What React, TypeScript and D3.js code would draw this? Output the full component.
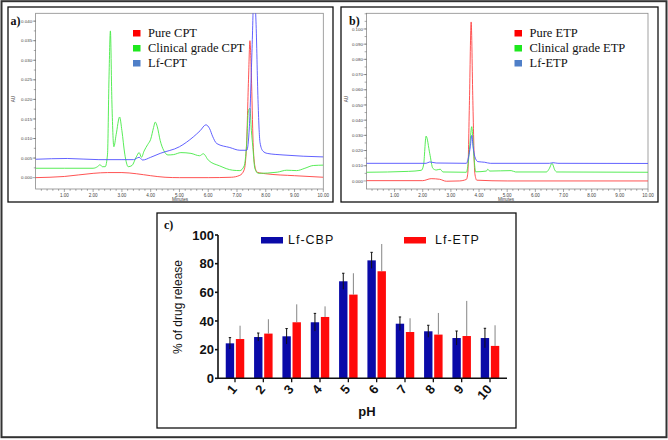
import React from "react";
import * as d3 from "d3";

// ---------- Panel a: chromatogram (CPT) ----------
const minutesTicks = [1, 2, 3, 4, 5, 6, 7, 8, 9, 10];
const auTicksA = [0, 0.005, 0.01, 0.015, 0.02, 0.025, 0.03, 0.035, 0.04];
const auTicksB = [0, 0.01, 0.02, 0.03, 0.04, 0.05, 0.06, 0.07, 0.08, 0.09, 0.1];

const pureCPT: [number, number][] = [
  [0, 0], [1, 0.0003], [2, 0.0011], [2.5, 0.0013], [3, 0.0013], [3.5, 0.001], [4, 0.0005],
  [4.5, 0.0001], [5, 0], [6, 0], [6.8, 0.0001], [7.1, 0.0006], [7.25, 0.002], [7.33, 0.008],
  [7.4, 0.025], [7.45, 0.035], [7.5, 0.026], [7.56, 0.009], [7.62, 0.003], [7.7, 0.0014],
  [8, 0.001], [9, 0.0005], [10, 0.0001],
];
const clinicalCPT: [number, number][] = [
  [0, 0.0024], [1, 0.0024], [2, 0.0024], [2.15, 0.0028], [2.24, 0.0033], [2.32, 0.0028],
  [2.42, 0.0028], [2.5, 0.006], [2.55, 0.025], [2.6, 0.0375], [2.65, 0.02], [2.72, 0.0079],
  [2.8, 0.011], [2.92, 0.0155], [3.0, 0.012], [3.1, 0.006], [3.22, 0.0028], [3.35, 0.0031],
  [3.5, 0.0053], [3.6, 0.0064], [3.68, 0.0052], [3.77, 0.0068], [3.9, 0.0085], [4.0, 0.0098],
  [4.1, 0.0128], [4.16, 0.0142], [4.23, 0.013], [4.33, 0.0095], [4.45, 0.007], [4.6, 0.0058],
  [4.8, 0.0059], [5.05, 0.0064], [5.4, 0.0062], [5.7, 0.0056], [5.83, 0.0061], [6.0, 0.0045],
  [6.4, 0.003], [6.85, 0.0019], [7.1, 0.0018], [7.25, 0.003], [7.33, 0.008], [7.4, 0.0172],
  [7.45, 0.0177], [7.5, 0.012], [7.55, 0.0079], [7.62, 0.0024], [7.74, 0.0011], [8.4, 0.0014],
  [8.73, 0.0019], [9.07, 0.0018], [9.36, 0.0024], [9.65, 0.0031], [10, 0.0032],
];
const lfCPT: [number, number][] = [
  [0, 0.0047], [1.1, 0.0049], [2.2, 0.0046], [3.0, 0.0046], [3.4, 0.0046], [3.6, 0.0052],
  [3.72, 0.0045], [4.0, 0.0052], [4.33, 0.0062], [5.0, 0.0079], [5.48, 0.0104], [5.72, 0.012],
  [5.92, 0.0135], [6.05, 0.0125], [6.15, 0.0106], [6.3, 0.0087], [6.75, 0.0077], [7.1, 0.007],
  [7.34, 0.007], [7.43, 0.013], [7.52, 0.032], [7.59, 0.047], [7.66, 0.04], [7.73, 0.02],
  [7.8, 0.009], [7.9, 0.0068], [8.05, 0.0062], [8.6, 0.0058], [10, 0.0053],
];

// ---------- Panel b: chromatogram (ETP) ----------
const pureETP: [number, number][] = [
  [0, 0.0002], [2, 0.0002], [2.3, 0.0015], [2.6, 0.0011], [2.84, -0.0002], [3.3, 0],
  [3.55, 0.001], [3.6, 0.005], [3.66, 0.053], [3.72, 0.1046], [3.78, 0.053], [3.85, 0.005],
  [3.92, 0.0005], [5, 0], [10, 0],
];
const clinicalETP: [number, number][] = [
  [0, 0.0057], [1.5, 0.0063], [1.95, 0.007], [2.03, 0.0105], [2.12, 0.0295], [2.25, 0.018],
  [2.36, 0.0083], [2.48, 0.0072], [2.62, 0.0077], [2.72, 0.0059], [3.55, 0.0057], [3.6, 0.0095],
  [3.68, 0.025], [3.74, 0.0357], [3.81, 0.018], [3.88, 0.006], [4.26, 0.0065], [4.31, 0.0077],
  [4.38, 0.0065], [5.14, 0.0068], [5.3, 0.0059], [6.39, 0.0059], [6.5, 0.0083], [6.59, 0.0116],
  [6.69, 0.0072], [6.76, 0.0059], [10, 0.0057],
];
const lfETP: [number, number][] = [
  [0, 0.0116], [2.12, 0.0116], [2.25, 0.0125], [2.48, 0.0118], [3.55, 0.0116], [3.63, 0.016],
  [3.69, 0.0225], [3.74, 0.03], [3.79, 0.0225], [3.85, 0.016], [3.96, 0.0127], [4.2, 0.0123],
  [4.4, 0.0116], [6.5, 0.0116], [6.63, 0.012], [6.8, 0.0116], [10, 0.0115],
];

const legendA = ["Pure CPT", "Clinical grade CPT", "Lf-CPT"];
const legendB = ["Pure ETP", "Clinical grade ETP", "Lf-ETP"];

// ---------- Panel c: bar chart ----------
const pHCategories = ["1", "2", "3", "4", "5", "6", "7", "8", "9", "10"];
const barSeries = ["Lf-CBP", "Lf-ETP"];
const cbpRelease = [24.4, 28.8, 29.3, 39.1, 67.7, 82.3, 38.1, 32.8, 28.1, 28.1];
const cbpError = [4.0, 2.8, 5.4, 6.2, 5.6, 5.6, 4.7, 4.2, 4.9, 6.8];
const etpRelease = [27.4, 31.2, 39.1, 42.8, 58.4, 74.7, 32.3, 30.5, 29.5, 22.6];
const etpError = [9.3, 10.0, 12.5, 7.4, 14.9, 19.0, 9.6, 15.1, 24.5, 14.4];
const releaseTicks = [0, 20, 40, 60, 80, 100];

const CHROM_COLORS = ["#ff4040", "#45ea45", "#5050ff"];
const LEGEND_SWATCH = ["#ff0000", "#1ee81e", "#4f7fc8"];

type Series = [number, number][];

function Chromatogram(props: {
  id: string;
  left: number; right: number; top: number; bottom: number;
  yDomain: [number, number];
  yTicks: number[];
  series: Series[];
  legend: string[];
  legendX: number;
  label: string;
  labelX: number;
  auX: number;
  minutesX: number;
}) {
  const { id, left, right, top, bottom, yDomain, yTicks, series, legend, legendX, label, labelX, auX, minutesX } = props;
  const x = d3.scaleLinear().domain([0, 10]).range([left, right]);
  const y = d3.scaleLinear().domain(yDomain).range([bottom, top]);
  const line = d3.line<[number, number]>().x(d => x(d[0])).y(d => y(d[1])).curve(d3.curveMonotoneX);
  const minor = d3.range(0.2, 10.01, 0.2);
  const yStep = yTicks[1] - yTicks[0];
  const yMinor = d3.range(yTicks[0] + yStep / 2, yDomain[1], yStep / 2);
  return (
    <g>
      <defs>
        <clipPath id={id}>
          <rect x={left} y={top} width={right - left} height={bottom - top} />
        </clipPath>
      </defs>
      <rect x={left} y={top} width={right - left} height={bottom - top} fill="white" stroke="#8a8a8a" strokeWidth={0.8} />
      {minor.map((m, i) => (
        <line key={"mx" + i} x1={x(m)} x2={x(m)} y1={bottom} y2={bottom + (Math.abs(m - Math.round(m)) < 0.01 ? 3 : 1.8)} stroke="#555" strokeWidth={0.5} />
      ))}
      {minutesTicks.map(t => (
        <text key={"xt" + t} x={x(t)} y={bottom + 7.5} fontSize={4.6} fill="#444" textAnchor="middle" fontFamily="Arial, Liberation Sans, sans-serif">{t.toFixed(2)}</text>
      ))}
      {yMinor.map((v, i) => (
        <line key={"my" + i} x1={left} x2={left - 1.8} y1={y(v)} y2={y(v)} stroke="#555" strokeWidth={0.5} />
      ))}
      {yTicks.map(t => (
        <g key={"yt" + t}>
          <line x1={left} x2={left - 3} y1={y(t)} y2={y(t)} stroke="#555" strokeWidth={0.5} />
          <text x={left - 3.5} y={y(t) + 1.6} fontSize={4.4} fill="#444" textAnchor="end" fontFamily="Arial, Liberation Sans, sans-serif">{t.toFixed(3)}</text>
        </g>
      ))}
      <text x={auX} y={(top + bottom) / 2 - 2} fontSize={4.6} fill="#444" textAnchor="middle" transform={`rotate(-90 ${auX} ${(top + bottom) / 2 - 2})`} fontFamily="Arial, Liberation Sans, sans-serif">AU</text>
      <text x={minutesX} y={bottom + 12} fontSize={4.6} fill="#444" textAnchor="middle" fontFamily="Arial, Liberation Sans, sans-serif">Minutes</text>
      <g clipPath={`url(#${id})`}>
        {series.map((s, i) => (
          <path key={i} d={line(s) || ""} fill="none" stroke={CHROM_COLORS[i]} strokeWidth={0.9} />
        ))}
      </g>
      {legend.map((l, i) => (
        <g key={l}>
          <rect x={legendX} y={30 + i * 15} width={7.5} height={6.5} fill={LEGEND_SWATCH[i]} />
          <text x={legendX + 15} y={37 + i * 15} fontSize={12.5} fontFamily="Liberation Serif, Times New Roman, serif" fill="#111">{l}</text>
        </g>
      ))}
      <text x={labelX} y={25} fontSize={12} fontWeight="bold" fontFamily="Liberation Serif, Times New Roman, serif" fill="#111">{label}</text>
    </g>
  );
}

function BarPanel() {
  const left = 218, right = 507, top = 235, bottom = 378.3;
  const x0 = d3.scaleBand<string>().domain(pHCategories).range([left, right]).paddingInner(0).paddingOuter(0.1);
  const groupW = 18.5;
  const x1 = d3.scaleBand<string>().domain(barSeries).range([-groupW / 2, groupW / 2]).paddingInner(0.17);
  const y = d3.scaleLinear().domain([0, 100]).range([bottom, top]);
  const sans = "Arial, Liberation Sans, sans-serif";
  const values = [cbpRelease, etpRelease];
  const errors = [cbpError, etpError];
  const fills = ["#0a0aa8", "#ff0a0a"];
  return (
    <g>
      <rect x={157} y={213} width={359} height={215} fill="white" stroke="#111" strokeWidth={1.3} />
      <text x={164} y={229} fontSize={12} fontWeight="bold" fontFamily="Liberation Serif, Times New Roman, serif" fill="#111">c)</text>
      {pHCategories.map((c, i) => {
        const cx = (x0(c) as number) + x0.bandwidth() / 2;
        return (
          <g key={c}>
            {barSeries.map((s, k) => {
              const bx = cx + (x1(s) as number);
              const v = values[k][i];
              const e = errors[k][i];
              const mid = bx + x1.bandwidth() / 2;
              return (
                <g key={s}>
                  <rect x={bx} y={y(v)} width={x1.bandwidth()} height={bottom - y(v)} fill={fills[k]} />
                  {k === 0 ? (
                    <g stroke="#111" strokeWidth={1}>
                      <line x1={mid} x2={mid} y1={y(v + e)} y2={y(v - e)} />
                      <line x1={mid - 1.2} x2={mid + 1.2} y1={y(v + e)} y2={y(v + e)} />
                    </g>
                  ) : (
                    <g stroke="#777" strokeWidth={0.9}>
                      <line x1={mid} x2={mid} y1={y(v + e)} y2={y(v)} />
                    </g>
                  )}
                </g>
              );
            })}
            <line x1={cx} x2={cx} y1={bottom} y2={bottom + 4} stroke="#111" strokeWidth={1.3} />
            <text x={cx} y={bottom + 9} fontSize={13} fontWeight="bold" fontFamily={sans} textAnchor="end" dominantBaseline="middle" transform={`rotate(-50 ${cx} ${bottom + 9})`} fill="#111">{c}</text>
          </g>
        );
      })}
      <line x1={left} x2={right} y1={bottom} y2={bottom} stroke="#111" strokeWidth={1.6} />
      <line x1={left} x2={left} y1={top} y2={bottom} stroke="#111" strokeWidth={1.6} />
      {releaseTicks.map(t => (
        <g key={t}>
          <line x1={left - 3} x2={left} y1={y(t)} y2={y(t)} stroke="#111" strokeWidth={1.6} />
          <text x={left - 4} y={y(t) + 4.6} fontSize={13} fontWeight="bold" fontFamily={sans} textAnchor="end" fill="#111">{t}</text>
        </g>
      ))}
      <text x={182} y={307} fontSize={12} fontFamily={sans} textAnchor="middle" transform="rotate(-90 182 307)" fill="#111">% of drug release</text>
      <text x={367} y={416} fontSize={13} fontWeight="bold" fontFamily={sans} textAnchor="middle" fill="#111">pH</text>
      {barSeries.map((s, k) => (
        <g key={s}>
          <rect x={k === 0 ? 261 : 404} y={237} width={22} height={6.5} fill={fills[k]} />
          <text x={k === 0 ? 288 : 435} y={244} fontSize={12.5} letterSpacing={1} fontFamily={sans} fill="#111">{s}</text>
        </g>
      ))}
    </g>
  );
}

export default function App() {
  return (
    <svg width={668} height={440} style={{ position: "absolute", left: 0, top: 0, background: "white" }}>
      <rect x={0} y={0} width={668} height={440} fill="white" />
      <rect x={1.5} y={1.2} width={665} height={436} fill="none" stroke="#333" strokeWidth={2} />
      <rect x={8} y={7} width={325} height={195} fill="white" stroke="#111" strokeWidth={1.3} />
      <rect x={341} y={7} width={317} height={195} fill="white" stroke="#111" strokeWidth={1.3} />
      <Chromatogram
        id="clipA" left={35.6} right={323.3} top={13.3} bottom={189}
        yDomain={[-0.0029, 0.042]} yTicks={auTicksA}
        series={[pureCPT, clinicalCPT, lfCPT]} legend={legendA} legendX={133}
        label="a)" labelX={10.5} auX={15.5} minutesX={180}
      />
      <Chromatogram
        id="clipB" left={366.4} right={648} top={13.3} bottom={189}
        yDomain={[-0.0053, 0.1103]} yTicks={auTicksB}
        series={[pureETP, clinicalETP, lfETP]} legend={legendB} legendX={514.5}
        label="b)" labelX={349} auX={348.5} minutesX={506}
      />
      <BarPanel />
    </svg>
  );
}
